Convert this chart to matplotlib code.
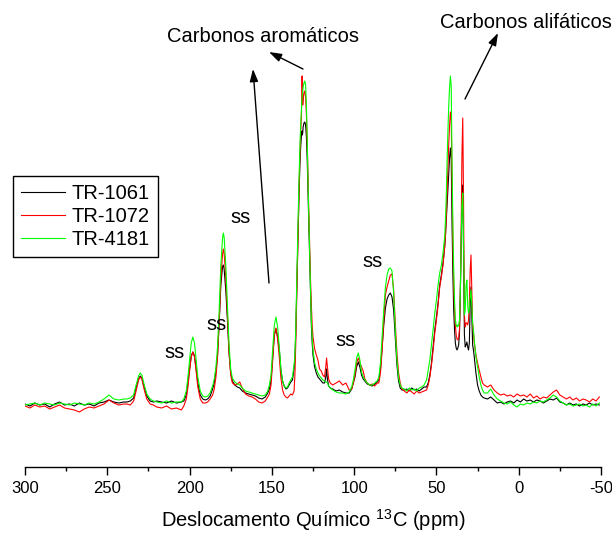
import matplotlib
matplotlib.use("Agg")
import matplotlib.pyplot as plt
import numpy as np

plt.rcParams["font.family"] = ["Liberation Sans", "DejaVu Sans"]

# Chemical shift grid (ppm), finer around the resonances
ppm = [
    300, 297, 294, 291, 288, 285, 282, 279, 276, 273, 270, 267, 264, 261, 258, 255, 252, 249, 246, 243, 240,
    238, 236, 234, 232.5, 231, 230, 229, 227.5, 226, 224, 222,
    220, 217, 214, 211, 208, 205,
    203.5, 202, 201, 200, 199, 198, 197, 196, 195, 193.5, 192, 190.5, 189, 187.5,
    186, 185, 184, 183, 182, 181, 180, 179.5, 179, 178, 177, 176, 175, 174, 172.5, 171, 169.5, 168,
    166, 164, 162, 160, 158, 156, 154, 152.5,
    151.5, 150.5, 149.5, 148.5, 147.5, 146.5, 145.5, 144.5, 143.5, 142.5, 141.5, 140.5, 139.5, 138.5, 137.5,
    136.5, 136, 135.5, 135, 134.5, 134, 133.5, 133, 132.5, 132, 131.75, 131.5, 131.25, 131, 130.5, 130,
    129.5, 129, 128.5, 128, 127.5, 127, 126.5, 126, 125.5, 125, 124, 123, 122, 121, 120, 119,
    118, 117.25, 116.75, 116.25, 115.5, 114.5, 113, 111, 109, 107, 105, 103, 101.5, 100.5,
    99.5, 98.5, 97.5, 96.5, 95.5, 94.5, 93.5, 92, 90.5, 89, 87.5, 86,
    85, 84, 83, 82, 81, 80, 79, 78, 77, 76, 75, 74, 73, 72, 71,
    69.5, 68, 66.5, 65, 63.5, 62, 60.5, 59, 57.5,
    56, 55, 54, 53, 52, 51, 50, 49, 48, 47, 46, 45,
    44.5, 44, 43.5, 43, 42.5, 42, 41.5, 41, 40.5, 40, 39.5, 39, 38.5, 38, 37.5, 37, 36.5, 36,
    35.5, 35, 34.5, 34, 33.5, 33, 32.5, 32, 31.5, 31, 30.5, 30, 29.5, 29, 28.5, 28, 27.5, 27,
    26, 25, 24, 23, 22, 21,
    19, 17, 15, 13, 11, 9, 7, 5, 3, 1, -1, -3, -5, -7, -9, -11, -13, -15, -17, -19,
    -21, -23, -25, -27, -29, -31, -33, -35, -37, -39, -41, -43, -45, -47, -49,
]

tr1061 = [
    1, -1, 2, 0, 1, -2, 1, 3, 0, 1, -1, 2, 0, 1, -1, 2, 3, 5, 3, 2, 3,
    3, 4, 7, 17, 26, 29, 27, 17, 9, 4, 3,
    4, 3, 2, 4, 2, 3,
    4, 10, 22, 36, 49, 53, 49, 36, 22, 10, 6, 5, 6, 9,
    16, 22, 33, 50, 82, 120, 138, 140, 136, 115, 85, 52, 32, 24, 20, 18, 17, 14,
    12, 11, 10, 9, 7, 6, 8, 12,
    16, 25, 48, 70, 76, 68, 56, 35, 24, 19, 16, 17, 20, 23, 25,
    36, 46, 70, 108, 142, 178, 210, 238, 258, 270, 274, 270, 272, 278, 282, 283,
    280, 268, 245, 210, 178, 145, 110, 80, 62, 50, 38, 32, 28, 26, 24, 22,
    22, 28, 36, 26, 19, 17, 16, 14, 15, 13, 12, 12, 16, 22,
    28, 38, 43, 38, 30, 26, 24, 21, 20, 19, 21, 23,
    25, 36, 58, 80, 97, 106, 110, 112, 108, 95, 68, 40, 24, 17, 15,
    15, 16, 14, 17, 15, 16, 14, 16, 18,
    18, 22, 30, 42, 58, 75, 88, 102, 120, 130, 142, 158,
    170, 185, 200, 215, 232, 248, 257, 245, 180, 130, 95, 75, 62, 57, 55, 57, 60, 72,
    110, 160, 205, 220, 150, 70, 58, 60, 63, 58, 55, 62, 100, 118, 90, 60, 55, 48,
    32, 20, 14, 10, 8, 7,
    6, 8, 5, 2, 3, 1, 3, 4, 2, 5, 3, 6, 4, 5, 3, 5, 4, 2, 4, 6,
    5, 7, 3, 2, 0, 2, 0, 1, -1, 1, 0, 2, 0, 1, 0,
]

tr1072 = [
    -1, -3, 0, -2, -1, -4, -2, 0, -3, -4, -5, -7, -4, -2, -3, -1, 1, 5, 2, 0, 1,
    1, 0, 4, 14, 25, 28, 26, 15, 6, 1, 0,
    -2, -3, -1, -4, -3, -5,
    -1, 6, 18, 34, 48, 53, 48, 34, 18, 6, 2, 2, 3, 6,
    10, 16, 28, 48, 84, 126, 150, 156, 152, 128, 90, 52, 30, 22, 20, 21, 23, 17,
    11, 9, 8, 6, 3, 2, 4, 8,
    11, 20, 45, 70, 77, 66, 48, 27, 15, 10, 8, 7, 9, 11, 10,
    14, 30, 60, 100, 140, 180, 215, 248, 272, 290, 329, 329, 300, 305, 312, 314,
    308, 290, 262, 225, 190, 158, 125, 100, 80, 68, 56, 50, 45, 36, 34, 30,
    28, 38, 47, 38, 26, 22, 20, 22, 24, 20, 22, 15, 16, 22,
    30, 42, 47, 42, 38, 34, 26, 22, 20, 21, 19, 22,
    22, 32, 55, 85, 110, 118, 124, 130, 131, 115, 82, 52, 32, 22, 16,
    14, 12, 15, 13, 11, 14, 12, 13, 14,
    15, 20, 28, 40, 55, 72, 85, 100, 118, 128, 140, 158,
    170, 190, 215, 240, 262, 280, 293, 285, 220, 160, 120, 95, 80, 70, 66, 65, 67, 75,
    110, 170, 250, 287, 200, 90, 78, 82, 82, 80, 85, 100, 135, 150, 115, 80, 72, 62,
    50, 42, 35, 28, 22, 20,
    18, 20, 15, 12, 10, 11, 9, 10, 8, 11, 9, 10, 8, 11, 7, 9, 6, 8, 7, 10,
    13, 15, 10, 8, 6, 8, 5, 7, 4, 6, 5, 3, 6, 4, 8,
]

tr4181 = [
    0, 1, 2, 0, 2, 1, 0, 2, 1, 0, 2, 1, 0, 2, 1, 3, 6, 10, 6, 5, 6,
    6, 7, 10, 20, 29, 32, 30, 20, 11, 6, 4,
    3, 2, 4, 2, 3, 3,
    6, 14, 28, 45, 62, 68, 62, 45, 28, 14, 9, 8, 9, 12,
    19, 26, 38, 58, 95, 140, 166, 172, 168, 140, 100, 60, 36, 27, 23, 21, 20, 17,
    14, 13, 12, 11, 10, 9, 10, 14,
    20, 30, 55, 80, 88, 78, 58, 36, 24, 19, 17, 18, 22, 25, 28,
    40, 50, 75, 115, 150, 190, 225, 255, 280, 298, 305, 310, 314, 318, 322, 324,
    320, 300, 265, 220, 185, 150, 115, 85, 68, 55, 42, 36, 32, 29, 27, 25,
    24, 23, 23, 22, 19, 17, 15, 13, 12, 12, 11, 13, 18, 25,
    35, 47, 52, 45, 33, 28, 25, 22, 20, 20, 22, 24,
    28, 42, 68, 95, 118, 130, 136, 137, 134, 112, 75, 45, 27, 20, 17,
    16, 14, 17, 15, 16, 14, 17, 18, 20,
    25, 35, 45, 60, 76, 92, 105, 120, 132, 140, 152, 168,
    185, 210, 245, 275, 300, 318, 329, 318, 240, 180, 135, 105, 85, 80, 78, 80, 79, 85,
    110, 160, 200, 212, 160, 90, 95, 120, 125, 100, 92, 95, 108, 115, 100, 82, 75, 65,
    48, 38, 28, 20, 15, 12,
    12, 16, 10, 6, 4, 2, 1, 3, 0, -2, 1, 0, 2, 1, 3, 2, 4, 3, 5, 7,
    10, 8, 4, 2, 0, 1, -1, 0, 1, -1, 0, -2, 1, -1, 2,
]

sample_names = ["TR-1061", "TR-1072", "TR-4181"]
sample_colors = ["#000000", "#ff0000", "#00ff00"]

# Spinning-sideband labels: (ppm, intensity)
ss_pos = [(209.2, 46.7), (183.8, 75.0), (168.9, 181.7), (105.4, 59.3), (88.8, 138.3)]

W, H = 612, 533
fig = plt.figure(figsize=(W / 100, H / 100), dpi=100)
ax = fig.add_axes([25 / W, 1 - 467 / H, 576 / W, 447 / H])

x = np.array(ppm)
for name, ys, col in zip(sample_names, [tr1061, tr1072, tr4181], sample_colors):
    ax.plot(x, np.array(ys), color=col, lw=0.8, label=name)

ax.set_xlim(300, -50)
ax.set_ylim(-62, 385)

for s in ("left", "top", "right"):
    ax.spines[s].set_visible(False)
ax.spines["bottom"].set_linewidth(1.0)
ax.set_yticks([])
ax.set_xticks(np.arange(300, -51, -50))
ax.set_xticks(np.arange(275, -50, -50), minor=True)
ax.set_xticklabels(["300", "250", "200", "150", "100", "50", "0", "-50"])
ax.tick_params(axis="x", which="major", direction="out", length=5.5, width=1.0,
               labelsize=12, pad=4.5)
ax.tick_params(axis="x", which="minor", direction="out", length=3.2, width=1.0)
ax.set_xlabel(r"Deslocamento Químico $\mathregular{^{13}}$C (ppm)", fontsize=14.5, labelpad=8)

for px, py in ss_pos:
    ax.text(px, py, "ss", fontsize=14.5, ha="center", va="baseline")

leg = ax.legend(loc="upper left", bbox_to_anchor=(13 / W, 1 - 176 / H),
                bbox_transform=fig.transFigure, borderaxespad=0, fontsize=14.5,
                handlelength=2.2, handletextpad=0.3, borderpad=0.4,
                labelspacing=0.2, fancybox=False, framealpha=1)
leg.get_frame().set_edgecolor("black")
leg.get_frame().set_linewidth(1.0)

fig.text(166.7 / W, 1 - 41.5 / H, "Carbonos aromáticos", fontsize=14.5,
         ha="left", va="baseline")
fig.text(440 / W, 1 - 28.3 / H, "Carbonos alifáticos", fontsize=14.5,
         ha="left", va="baseline")

arrow_style = dict(arrowstyle="-|>,head_length=0.75,head_width=0.25", color="black",
                   lw=1.0, shrinkA=0, shrinkB=0, mutation_scale=10)
for tail, head in [((303, 69), (269, 52)), ((269, 283), (253, 69)), ((465, 99), (498, 33))]:
    ax.annotate("", xy=(head[0], H - head[1]), xytext=(tail[0], H - tail[1]),
                xycoords="figure pixels", textcoords="figure pixels",
                arrowprops=arrow_style)

fig.savefig("out.png", dpi=100)
